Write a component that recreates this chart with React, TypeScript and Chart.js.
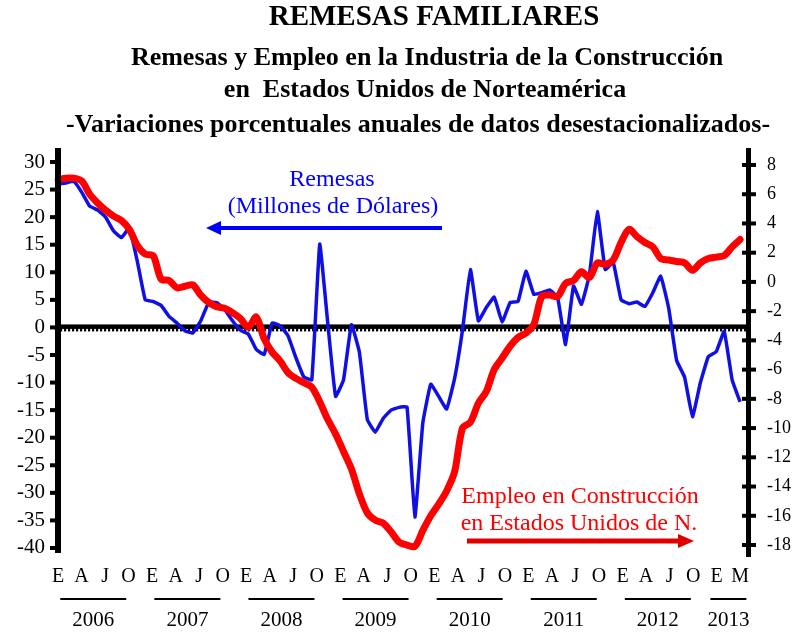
import React, { useEffect, useRef } from "react";
import { Chart, registerables } from "chart.js";

Chart.register(...registerables);

// ---------- DATA ----------
const years = [2006, 2007, 2008, 2009, 2010, 2011, 2012, 2013];
const monthLetters = ["E", "F", "M", "A", "M", "J", "J", "A", "S", "O", "N", "D"];
const shownMonths = [0, 3, 6, 9]; // E A J O
const lastMonthIndex = 86; // Marzo 2013

// Remesas: variación % anual (eje izquierdo)
const remesas = [
  26, 26.2, 26.5, 24.5, 22, 21.3, 20, 17.5, 16.3, 18, 12, 5,
  4.7, 4.0, 2, 0.8, -0.6, -1, 1.2, 4.5, 4.5, 3.3, 1.2, -0.5,
  -1.2, -4, -4.9, 0.8, 0.3, -1.5, -5.5, -9, -9.5, 15.1, 1, -12.5,
  -9.5, 0.5, -4.5, -16.7, -19, -16.5, -15, -14.5, -14.4, -34.4, -17.3, -10.3,
  -12.5, -14.8, -9.3, -0.5, 10.5, 1.2, 3.6, 5.5, 1, 4.5, 4.7, 10.2,
  6, 6.3, 6.8, 5.4, -3.1, 7.5, 4.2, 9.5, 21, 10.5, 11.8, 5,
  4.3, 4.6, 3.8, 6.3, 9.3, 3.5, -6, -9, -16.2, -10, -5.3, -4.4,
  -0.7, -9.5, -13.5,
];

// Empleo en construcción EUA: variación % anual (eje derecho)
const empleo = [
  7.0, 7.1, 7.1, 6.9, 6.0, 5.4, 4.9, 4.5, 4.2, 3.6, 2.5, 1.9,
  1.8, 0.2, 0.1, -0.4, -0.3, -0.2, -0.9, -1.4, -1.7, -1.8, -2.1, -2.5,
  -3.1, -2.4, -3.9, -4.8, -5.4, -6.2, -6.6, -6.9, -7.2, -8.2, -9.4, -10.4,
  -11.6, -12.8, -14.5, -15.8, -16.3, -16.5, -17.1, -17.8, -18.0, -18.1, -17.0, -16.0,
  -15.2, -14.3, -13.0, -10.0, -9.6, -8.3, -7.5, -6.0, -5.2, -4.4, -3.8, -3.5,
  -2.9, -1.0, -0.9, -1.0, -0.1, 0.1, 0.7, 0.3, 1.3, 1.2, 1.5, 2.7,
  3.6, 3.1, 2.7, 2.4, 1.6, 1.5, 1.4, 1.3, 0.8, 1.3, 1.6, 1.7,
  1.8, 2.4, 2.9,
];

const leftTicks = [30, 25, 20, 15, 10, 5, 0, -5, -10, -15, -20, -25, -30, -35, -40];
const rightTicks = [8, 6, 4, 2, 0, -2, -4, -6, -8, -10, -12, -14, -16, -18];

const titleLines = [
  "REMESAS FAMILIARES",
  "Remesas y Empleo en la Industria de la Construcción",
  "en  Estados Unidos de Norteamérica",
  "-Variaciones porcentuales anuales de datos desestacionalizados-",
];
const remesasLabel = ["Remesas", "(Millones de Dólares)"];
const empleoLabel = ["Empleo en Construcción", "en Estados Unidos de N."];

// data categories: one per month Jan 2006 .. Mar 2013, plus one blank slot
const categories: string[] = [];
years.forEach((y) => {
  monthLetters.forEach((m) => {
    if (categories.length > lastMonthIndex) return;
    categories.push(`${m}-${y}`);
  });
});
categories.push("");

// label axis (as laid out on the printed chart: quarter letters, last "M" one quarter after the final "E")
const labelSlotCount = 89;
const labelSlots: string[] = [];
const labelTexts: string[] = [];
for (let k = 0; k < labelSlotCount; k++) {
  const y = years[Math.floor(k / 12)];
  const m = k % 12;
  labelSlots.push(`${y}-${m}`);
  if (y === 2013) {
    labelTexts.push(m === 0 ? "E" : m === 3 ? "M" : "");
  } else {
    labelTexts.push(shownMonths.includes(m) ? monthLetters[m] : "");
  }
}
const yearSpans = years.map((y, k) => ({ year: y, first: k * 12, last: y === 2013 ? k * 12 + 3 : k * 12 + 9 }));

const SERIF = "'Liberation Serif', 'Times New Roman', serif";

const decorPlugin = {
  id: "decor",
  beforeDatasetsDraw(chart: any) {
    const { ctx, chartArea, scales } = chart;
    const y0 = scales.y.getPixelForValue(0);
    ctx.save();
    ctx.fillStyle = "#000";
    ctx.fillRect(chartArea.left, y0 - 3, chartArea.right - chartArea.left, 4.5);
    for (let x = chartArea.left + 2; x < chartArea.right - 1; x += 4) {
      ctx.fillRect(x, y0 + 1, 2.2, 3);
    }
    ctx.restore();
  },
  afterDraw(chart: any) {
    const { ctx, chartArea, scales } = chart;
    ctx.save();
    ctx.fillStyle = "#000";
    // left axis
    ctx.fillRect(chartArea.left - 3, chartArea.top, 6, chartArea.bottom - chartArea.top);
    leftTicks.forEach((v) => {
      const py = scales.y.getPixelForValue(v);
      ctx.fillRect(chartArea.left - 8, py - 2, 8, 4);
    });
    // right axis
    ctx.fillRect(chartArea.right - 2, chartArea.top, 5, chartArea.bottom - chartArea.top + 4);
    rightTicks.forEach((v) => {
      const py = scales.y2.getPixelForValue(v);
      ctx.fillRect(chartArea.right - 6, py - 2, 14, 4);
    });

    // titles
    ctx.textAlign = "center";
    ctx.textBaseline = "middle";
    ctx.font = `bold 29px ${SERIF}`;
    ctx.fillText(titleLines[0], 434, 18);
    ctx.font = `bold 26px ${SERIF}`;
    ctx.fillText(titleLines[1], 427, 58);
    ctx.fillText(titleLines[2], 425, 90);
    ctx.fillText(titleLines[3], 418, 125);

    // year labels with underlines
    const xs = scales.xl;
    ctx.font = `21px ${SERIF}`;
    yearSpans.forEach((s) => {
      const c = (xs.getPixelForValue(s.first) + xs.getPixelForValue(s.last)) / 2;
      const half = s.last - s.first < 9 ? 18 : 33;
      ctx.fillRect(c - half, 598, half * 2, 2);
      ctx.fillText(String(s.year), c, 620);
    });

    // remesas annotation
    ctx.fillStyle = "#0000ff";
    ctx.font = `24px ${SERIF}`;
    ctx.fillText(remesasLabel[0], 332, 180);
    ctx.fillText(remesasLabel[1], 333, 207);
    ctx.fillRect(216, 226, 226, 4);
    ctx.beginPath();
    ctx.moveTo(206, 228);
    ctx.lineTo(221, 221);
    ctx.lineTo(221, 235);
    ctx.closePath();
    ctx.fill();

    // empleo annotation
    ctx.fillStyle = "#ff0000";
    ctx.fillText(empleoLabel[0], 580, 497);
    ctx.fillText(empleoLabel[1], 579, 524);
    ctx.fillStyle = "#e00000";
    ctx.fillRect(467, 538.5, 214, 5);
    ctx.beginPath();
    ctx.moveTo(694, 541);
    ctx.lineTo(678, 534);
    ctx.lineTo(678, 548);
    ctx.closePath();
    ctx.fill();
    ctx.restore();
  },
};

export default function App() {
  const ref = useRef<HTMLCanvasElement | null>(null);
  useEffect(() => {
    if (!ref.current) return;
    const chart = new Chart(ref.current, {
      type: "line",
      data: {
        labels: categories,
        datasets: [
          {
            label: "Empleo en Construcción",
            data: empleo,
            yAxisID: "y2",
            borderColor: "#ff0000",
            borderWidth: 7,
            pointRadius: 0,
            tension: 0.3,
            borderJoinStyle: "round",
            borderCapStyle: "round",
          },
          {
            label: "Remesas",
            data: remesas,
            yAxisID: "y",
            borderColor: "#1010e6",
            borderWidth: 3.5,
            pointRadius: 0,
            tension: 0.1,
            borderJoinStyle: "round",
          },
        ],
      },
      options: {
        responsive: false,
        animation: false,
        events: [],
        layout: { padding: { top: 148, left: 0, right: 0, bottom: 0 } },
        plugins: {
          legend: { display: false },
          title: { display: false },
          tooltip: { enabled: false },
        },
        scales: {
          x: {
            type: "category",
            position: "bottom",
            offset: false,
            grid: { display: false, drawTicks: false },
            border: { display: false },
            ticks: { display: false },
            afterFit: (s: any) => {
              s.height = 0;
            },
          },
          xl: {
            type: "category",
            position: "bottom",
            labels: labelSlots,
            offset: false,
            grid: { display: false, drawTicks: false },
            border: { display: false },
            ticks: {
              autoSkip: false,
              maxRotation: 0,
              minRotation: 0,
              padding: 12,
              color: "#000",
              font: { family: SERIF, size: 20 },
              callback: (_v: any, i: number) => labelTexts[i],
            },
            afterFit: (s: any) => {
              s.height = 80;
            },
          },
          y: {
            position: "left",
            min: -40.91,
            max: 32.54,
            grid: { display: false, drawTicks: false },
            border: { display: false },
            afterBuildTicks: (s: any) => {
              s.ticks = leftTicks.map((v) => ({ value: v }));
            },
            ticks: {
              color: "#000",
              padding: 13,
              font: { family: SERIF, size: 21 },
            },
            afterFit: (s: any) => {
              s.width = 58;
            },
          },
          y2: {
            position: "right",
            min: -18.547,
            max: 9.163,
            grid: { display: false, drawTicks: false },
            border: { display: false },
            afterBuildTicks: (s: any) => {
              s.ticks = rightTicks.map((v) => ({ value: v }));
            },
            ticks: {
              color: "#000",
              padding: 19,
              font: { family: SERIF, size: 18 },
            },
            afterFit: (s: any) => {
              s.width = 48;
            },
          },
        },
      },
      plugins: [decorPlugin],
    });
    return () => chart.destroy();
  }, []);
  return (
    <div style={{ position: "absolute", left: 0, top: 0, width: 796, height: 633, background: "#fff" }}>
      <canvas ref={ref} width={796} height={633} />
    </div>
  );
}
